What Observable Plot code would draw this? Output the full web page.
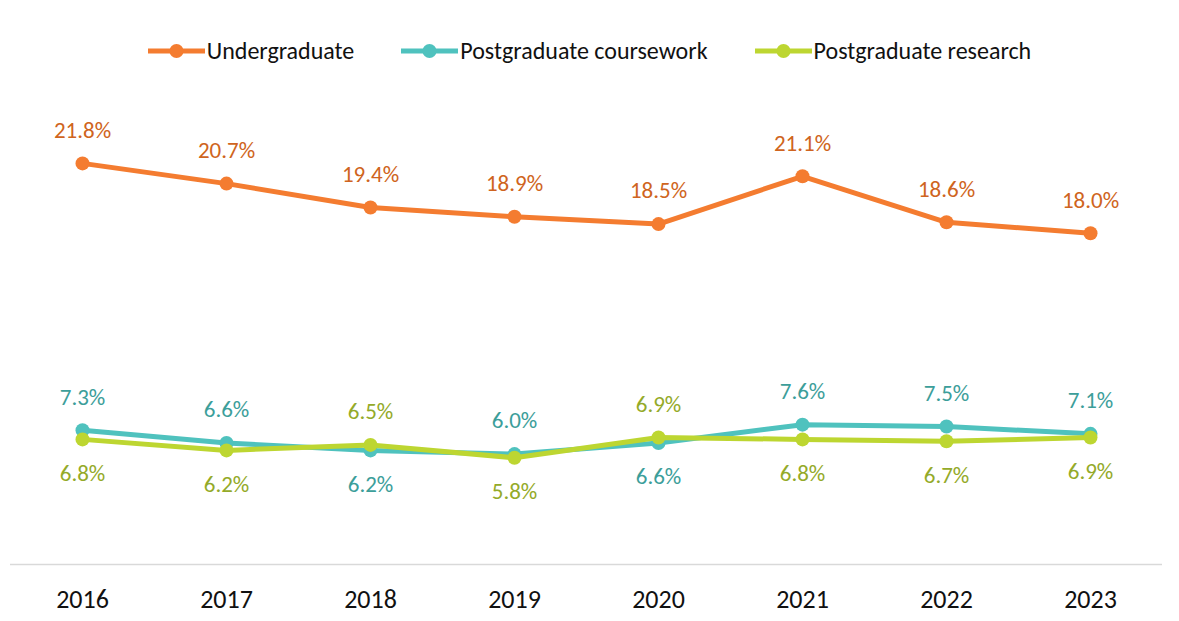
<!DOCTYPE html>
<html>
<head>
<meta charset="utf-8">
<script src="https://cdn.jsdelivr.net/npm/d3@7"></script>
<script src="https://cdn.jsdelivr.net/npm/@observablehq/plot@0.6"></script>
<style>
  html, body { margin: 0; padding: 0; background: #fff; }
  body { width: 1179px; height: 621px; overflow: hidden; font-family: Carlito, Calibri, Lato, sans-serif; }
  #legend { height: 90px; position: relative; display: flex; justify-content: center; align-items: flex-start; }
  #legend .inner { display: flex; gap: 47px; margin-top: 36px; }
  #legend .item { display: flex; align-items: center; font-size: 24px; color: #111; line-height: 30px; }
  #legend svg { margin-right: 2px; }
</style>
</head>
<body>
<div id="legend"><div class="inner"></div></div>
<div id="chart"></div>
<script>
const years = [2016, 2017, 2018, 2019, 2020, 2021, 2022, 2023];
const seriesNames = ["Undergraduate", "Postgraduate coursework", "Postgraduate research"];
const undergraduate = [21.8, 20.7, 19.4, 18.9, 18.5, 21.1, 18.6, 18.0];
const pgCoursework = [7.3, 6.6, 6.2, 6.0, 6.6, 7.6, 7.5, 7.1];
const pgResearch = [6.8, 6.2, 6.5, 5.8, 6.9, 6.8, 6.7, 6.9];
const lineColors = ["#F47C30", "#4FC2BE", "#BDD631"];
const labelColors = ["#CF6420", "#3C9E9A", "#94AA29"];

const values = [undergraduate, pgCoursework, pgResearch];
const data = [];
seriesNames.forEach((s, si) => years.forEach((y, i) => data.push({series: s, year: String(y), value: values[si][i], idx: i, si})));

// label placement: higher of the two postgraduate series goes above
function above(d) {
  if (d.si === 0) return true;
  const other = d.si === 1 ? pgResearch[d.idx] : pgCoursework[d.idx];
  return d.value >= other;
}
const fmt = v => v.toFixed(1) + "%";

// legend
const inner = document.querySelector("#legend .inner");
seriesNames.forEach((s, i) => {
  const item = document.createElement("div");
  item.className = "item";
  item.innerHTML = `<svg width="57" height="16"><line x1="0" x2="57" y1="8" y2="8" stroke="${lineColors[i]}" stroke-width="5"/><circle cx="28.5" cy="8" r="7" fill="${lineColors[i]}"/></svg><span>${s}</span>`;
  inner.appendChild(item);
});

const marks = [
  Plot.ruleY([0], {stroke: "#d9d9d9", strokeWidth: 1.5}),
];
seriesNames.forEach((s, si) => {
  const sub = data.filter(d => d.si === si);
  marks.push(Plot.line(sub, {x: "year", y: "value", stroke: lineColors[si], strokeWidth: 5}));
  marks.push(Plot.dot(sub, {x: "year", y: "value", r: 7, fill: lineColors[si], stroke: "none"}));
});
seriesNames.forEach((s, si) => {
  const sub = data.filter(d => d.si === si);
  marks.push(Plot.text(sub.filter(above), {x: "year", y: "value", text: d => fmt(d.value), dy: -33, fill: labelColors[si], fontSize: 23, lineAnchor: "middle"}));
  marks.push(Plot.text(sub.filter(d => !above(d)), {x: "year", y: "value", text: d => fmt(d.value), dy: 34, fill: labelColors[si], fontSize: 23, lineAnchor: "middle"}));
});

const chart = Plot.plot({
  width: 1179,
  height: 531,
  marginLeft: 10,
  marginRight: 17,
  marginTop: 14,
  marginBottom: 57,
  style: {fontFamily: "Carlito, Calibri, Lato, sans-serif", background: "#fff"},
  x: {type: "point", domain: years.map(String), padding: 0.5, label: null},
  y: {domain: [0, 25], axis: null},
  marks: [
    ...marks,
    Plot.axisX({tickSize: 0, tickPadding: 25, fontSize: 26, fill: "#111", fontWeight: "normal", label: null})
  ]
});
document.getElementById("chart").appendChild(chart);
</script>
</body>
</html>
